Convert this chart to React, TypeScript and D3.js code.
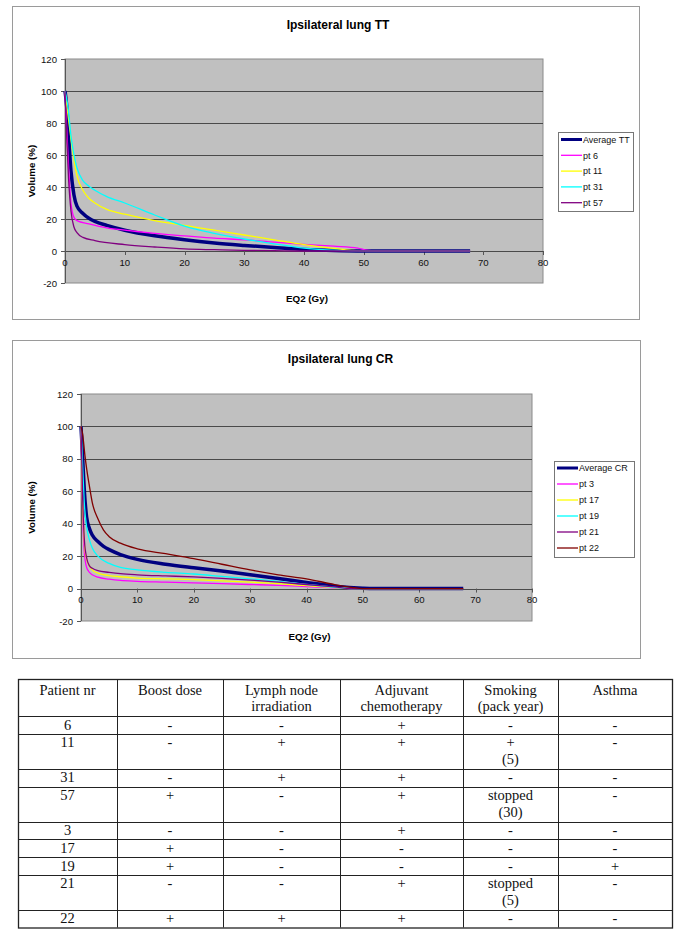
import React from 'react';
import * as d3 from 'd3';

type Pt = [number, number];

const doseTicks = [0, 10, 20, 30, 40, 50, 60, 70, 80];
const volTicks = [-20, 0, 20, 40, 60, 80, 100, 120];

// --- Ipsilateral lung TT (dose Gy, volume %)
const avgTT: Pt[] = [[0, 100], [0.3, 90], [0.6, 72], [1, 50], [1.5, 35], [2, 28], [3, 23.5], [4, 20.5], [5, 18.5], [7, 16], [10, 13], [15, 9.5], [20, 7], [25, 5], [30, 3.5], [35, 2.2], [40, 1], [45, 0.3], [50, 0], [60, 0], [67.8, 0]];
const pt6: Pt[] = [[0, 100], [0.5, 60], [1, 30], [1.5, 21], [2, 19], [4, 17], [7, 14.5], [10, 13], [15, 11], [20, 9.5], [25, 8], [30, 7], [35, 5.5], [40, 4.2], [45, 3], [49, 1.8], [50.5, 0.5], [52, 0], [67.8, 0]];
const pt11: Pt[] = [[0, 100], [0.5, 85], [1, 70], [1.5, 57], [2, 47], [3, 38], [4, 33], [5, 30], [7, 26], [10, 23], [15, 19], [20, 16], [25, 13], [30, 10], [35, 7], [40, 4], [45, 1.6], [48, 0.4], [50, 0], [67.8, 0]];
const pt31: Pt[] = [[0, 100], [0.5, 90], [1, 72], [1.5, 60], [2, 52], [3, 44], [4, 40.5], [5, 38], [7, 34], [10, 30], [15, 22.5], [20, 15.5], [25, 11], [30, 7.5], [35, 4.5], [40, 1.8], [45, 0.5], [48, 0], [67.8, 0]];
const pt57: Pt[] = [[0, 100], [0.3, 70], [0.6, 45], [1, 25], [1.5, 15], [2, 11.5], [3, 8.5], [5, 6.5], [10, 4], [15, 2.5], [20, 1.3], [25, 0.8], [30, 0.4], [35, 0.2], [40, 0], [67.8, 0]];

const ttNames = ['Average TT', 'pt 6', 'pt 11', 'pt 31', 'pt 57'];
const ttColors = ['#000080', '#ff00ff', '#ffff00', '#00ffff', '#800080'];
const ttData = [avgTT, pt6, pt11, pt31, pt57];

// --- Ipsilateral lung CR
const avgCR: Pt[] = [[0, 100], [0.3, 80], [0.6, 60], [1, 44], [1.5, 37], [2, 33], [3, 29], [4, 26], [5, 24], [7, 21], [10, 18], [15, 15], [20, 12.8], [25, 10.8], [30, 8.5], [35, 6.2], [40, 3.8], [45, 1.5], [50, 0.2], [52, 0], [67.8, 0]];
const pt3: Pt[] = [[0, 100], [0.3, 45], [0.6, 22], [1, 13], [1.5, 10], [2, 8.5], [3, 7], [5, 5.8], [7, 5], [10, 4.5], [15, 4], [20, 3.5], [25, 3], [30, 2.5], [35, 2], [40, 1.2], [45, 0.4], [48, 0], [67.8, 0]];
const pt17: Pt[] = [[0, 100], [0.3, 50], [0.6, 28], [1, 18], [1.5, 14], [2, 11.5], [3, 9.5], [5, 8], [7, 7.3], [10, 6.5], [15, 6], [20, 5.5], [25, 4.8], [30, 4], [35, 3], [40, 1.8], [45, 0.6], [48, 0], [67.8, 0]];
const pt19: Pt[] = [[0, 100], [0.3, 75], [0.6, 52], [1, 38], [1.5, 30], [2, 25], [3, 20], [5, 15.5], [7, 13], [10, 11.5], [15, 10], [20, 9], [25, 7.5], [30, 6], [35, 4.5], [40, 2.5], [45, 0.8], [48, 0], [67.8, 0]];
const pt21: Pt[] = [[0, 100], [0.3, 55], [0.6, 30], [1, 19], [1.5, 14], [2, 12.5], [3, 11], [5, 10], [7, 9.2], [10, 8.5], [15, 7.8], [20, 7.2], [25, 6.3], [30, 5.2], [35, 4], [40, 2.5], [45, 1], [48, 0], [67.8, 0]];
const pt22: Pt[] = [[0, 100], [0.3, 95], [0.7, 82], [1, 74], [1.5, 63], [2, 53], [3, 43], [4, 36], [5, 32], [7, 28], [10, 24.5], [15, 21.5], [20, 18.5], [25, 15], [30, 11.5], [35, 8.5], [40, 6], [45, 2.5], [48, 0.8], [50, 0], [67.8, 0]];

const crNames = ['Average CR', 'pt 3', 'pt 17', 'pt 19', 'pt 21', 'pt 22'];
const crColors = ['#000080', '#ff00ff', '#ffff00', '#00ffff', '#800080', '#800000'];
const crData = [avgCR, pt3, pt17, pt19, pt21, pt22];

// --- table
const tableHeaders = ['Patient nr', 'Boost dose', 'Lymph node\nirradiation', 'Adjuvant\nchemotherapy', 'Smoking\n(pack year)', 'Asthma'];
const patientNr = ['6', '11', '31', '57', '3', '17', '19', '21', '22'];
const boostDose = ['-', '-', '-', '+', '-', '+', '+', '-', '+'];
const lymphNode = ['-', '+', '+', '-', '-', '-', '-', '-', '+'];
const adjuvant = ['+', '+', '+', '+', '+', '-', '-', '+', '+'];
const smoking = ['-', '+\n(5)', '-', 'stopped\n(30)', '-', '-', '-', 'stopped\n(5)', '-'];
const asthma = ['-', '-', '-', '-', '-', '-', '+', '-', '-'];

const SANS = '"Liberation Sans", Arial, sans-serif';
const SERIF = '"Liberation Serif", "Times New Roman", serif';

type ChartProps = {
  frame: { x0: number; y0: number; x1: number; y1: number };
  plot: { x0: number; y0: number; x1: number; y1: number };
  title: string;
  titleY: number;
  names: string[];
  colors: string[];
  data: Pt[][];
  legend: { x0: number; y0: number; x1: number; y1: number; first: number; step: number };
};

function DvhChart({ frame, plot, title, titleY, names, colors, data, legend }: ChartProps) {
  const x = d3.scaleLinear().domain([0, 80]).range([plot.x0, plot.x1]);
  const y = d3.scaleLinear().domain([-20, 120]).range([plot.y1, plot.y0]);
  const line = d3.line<Pt>().x(d => x(d[0])).y(d => y(d[1])).curve(d3.curveMonotoneX);
  const midX = (plot.x0 + plot.x1) / 2;
  const midY = (plot.y0 + plot.y1) / 2;

  return (
    <g>
      <rect x={frame.x0 + 0.5} y={frame.y0 + 0.5} width={frame.x1 - frame.x0} height={frame.y1 - frame.y0} fill="#fff" stroke="#9a9a9a" />
      <text x={midX + 34} y={titleY} textAnchor="middle" fontFamily={SANS} fontWeight="bold" fontSize={12}>{title}</text>

      <rect x={plot.x0} y={plot.y0} width={plot.x1 - plot.x0} height={plot.y1 - plot.y0} fill="#c0c0c0" stroke="#8a8a8a" />
      {volTicks.filter(v => v > -20 && v < 120).map(v => (
        <line key={v} x1={plot.x0} x2={plot.x1} y1={Math.round(y(v)) + 0.5} y2={Math.round(y(v)) + 0.5} stroke="#4a4a4a" />
      ))}

      {/* y axis */}
      <line x1={plot.x0 + 0.5} x2={plot.x0 + 0.5} y1={plot.y0} y2={plot.y1} stroke="#555" />
      {volTicks.map(v => (
        <g key={v}>
          <line x1={plot.x0 - 4} x2={plot.x0} y1={Math.round(y(v)) + 0.5} y2={Math.round(y(v)) + 0.5} stroke="#555" />
          <text x={plot.x0 - 8} y={y(v) + 3.5} textAnchor="end" fontFamily={SANS} fontSize={9.6} fill="#111">{v}</text>
        </g>
      ))}
      {/* x axis at 0 */}
      {doseTicks.map(d => (
        <g key={d}>
          <line x1={Math.round(x(d)) + 0.5} x2={Math.round(x(d)) + 0.5} y1={y(0)} y2={y(0) + 4} stroke="#555" />
          <text x={x(d)} y={y(0) + 14.5} textAnchor="middle" fontFamily={SANS} fontSize={9.6} fill="#111">{d}</text>
        </g>
      ))}

      {data.map((s, i) => (
        <path key={names[i]} d={line(s) || ''} fill="none" stroke={colors[i]} strokeWidth={i === 0 ? 3.5 : 1.3} strokeLinejoin="round" />
      ))}

      <text x={midX + 3} y={plot.y1 + 19} textAnchor="middle" fontFamily={SANS} fontWeight="bold" fontSize={9.8}>EQ2 (Gy)</text>
      <text transform={`translate(${frame.x0 + 23},${midY}) rotate(-90)`} textAnchor="middle" fontFamily={SANS} fontWeight="bold" fontSize={9.8}>Volume (%)</text>

      <rect x={legend.x0 + 0.5} y={legend.y0 + 0.5} width={legend.x1 - legend.x0} height={legend.y1 - legend.y0} fill="#fff" stroke="#777" />
      {names.map((n, i) => {
        const ly = legend.first + i * legend.step;
        return (
          <g key={n}>
            <line x1={legend.x0 + 3} x2={legend.x0 + 24} y1={ly} y2={ly} stroke={colors[i]} strokeWidth={i === 0 ? 3 : 1.3} />
            <text x={legend.x0 + 25} y={ly + 3.2} fontFamily={SANS} fontSize={9} fill="#111">{n}</text>
          </g>
        );
      })}
    </g>
  );
}

function DataTable() {
  const colEdges = [18, 117, 223, 340, 463, 558, 672];
  const columns = [patientNr, boostDose, lymphNode, adjuvant, smoking, asthma];
  const top = 679;
  const headerH = 37;
  const single = 17.6;
  const lineGap = 17;
  const rowLines = patientNr.map((_, r) => Math.max(...columns.map(c => c[r].split('\n').length)));
  const rowTops: number[] = [];
  let cur = top + headerH;
  rowLines.forEach(n => { rowTops.push(cur); cur += n === 1 ? single : 35.3; });
  const bottom = cur;

  return (
    <g fontFamily={SERIF} fontSize={14.5} fill="#111">
      {tableHeaders.map((h, c) => {
        const cx = (colEdges[c] + colEdges[c + 1]) / 2;
        return h.split('\n').map((t, k) => (
          <text key={`h${c}${k}`} x={cx} y={top + 16 + k * 15.5} textAnchor="middle">{t}</text>
        ));
      })}
      {columns.map((col, c) => {
        const cx = (colEdges[c] + colEdges[c + 1]) / 2;
        return col.map((v, r) => v.split('\n').map((t, k) => (
          <text key={`${c}-${r}-${k}`} x={cx} y={rowTops[r] + 13.5 + k * lineGap} textAnchor="middle">{t}</text>
        )));
      })}
      <g stroke="#222" fill="none">
        <rect x={colEdges[0] + 0.5} y={top + 0.5} width={colEdges[6] - colEdges[0]} height={bottom - top} strokeWidth={1.3} />
        {colEdges.slice(1, -1).map(e => (
          <line key={e} x1={e + 0.5} x2={e + 0.5} y1={top} y2={bottom} />
        ))}
        {[top + headerH, ...rowTops.slice(1)].map((t, i) => (
          <line key={i} x1={colEdges[0]} x2={colEdges[6]} y1={Math.round(t) + 0.5} y2={Math.round(t) + 0.5} />
        ))}
      </g>
    </g>
  );
}

export default function App() {
  return (
    <div style={{ position: 'absolute', left: 0, top: 0 }}>
      <svg width={685} height={941} style={{ display: 'block', background: '#fff' }}>
        <DvhChart
          frame={{ x0: 12, y0: 6, x1: 639, y1: 319 }}
          plot={{ x0: 65, y0: 59, x1: 543, y1: 283 }}
          title="Ipsilateral lung TT"
          titleY={29}
          names={ttNames}
          colors={ttColors}
          data={ttData}
          legend={{ x0: 558, y0: 132, x1: 633, y1: 211, first: 139.5, step: 15.8 }}
        />
        <DvhChart
          frame={{ x0: 12, y0: 340, x1: 640, y1: 658 }}
          plot={{ x0: 81, y0: 394, x1: 532, y1: 621 }}
          title="Ipsilateral lung CR"
          titleY={363}
          names={crNames}
          colors={crColors}
          data={crData}
          legend={{ x0: 554, y0: 461, x1: 634, y1: 557, first: 468, step: 16 }}
        />
        <DataTable />
      </svg>
    </div>
  );
}
